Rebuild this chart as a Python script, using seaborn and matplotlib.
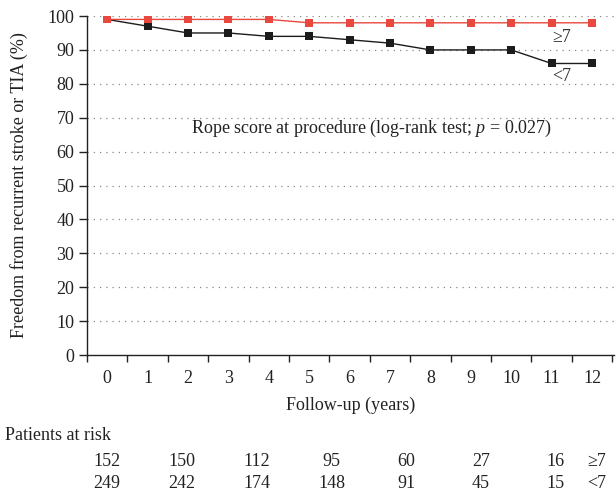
import numpy as np
import pandas as pd
import matplotlib
matplotlib.use("Agg")
import matplotlib.pyplot as plt
import matplotlib.transforms as mtransforms
import seaborn as sns

years = list(range(13))
high_score = [99, 99, 99, 99, 99, 98, 98, 98, 98, 98, 98, 98, 98]
low_score = [99, 97, 95, 95, 94, 94, 93, 92, 90, 90, 90, 86, 86]
group_labels = ["\u22657", "<7"]
risk_high = [152, 150, 112, 95, 60, 27, 16]
risk_low = [249, 242, 174, 148, 91, 45, 15]

sns.set_theme(style="white")
plt.rcParams['font.family'] = ['Liberation Serif', 'DejaVu Serif']
plt.rcParams['mathtext.fontset'] = 'custom'
plt.rcParams['mathtext.it'] = 'Liberation Serif:italic'
plt.rcParams['mathtext.rm'] = 'Liberation Serif'

FS = 13
TXT = "#222222"

df = pd.DataFrame({
    "year": years * 2,
    "freedom": high_score + low_score,
    "group": [group_labels[0]] * len(years) + [group_labels[1]] * len(years),
})

fig = plt.figure(figsize=(6.16, 4.93), dpi=100)
ax = fig.add_axes([0.1412, 0.2799, 0.856, 0.6876])

palette = {group_labels[0]: "#e8483e", group_labels[1]: "#1c1c1c"}
sns.lineplot(data=df, x="year", y="freedom", hue="group", palette=palette,
             marker="s", markersize=5.5, markeredgewidth=0, linewidth=1.0,
             legend=False, ax=ax, hue_order=[group_labels[1], group_labels[0]])

ax.set_xlim(-0.45, 12.55)
ax.set_ylim(0, 100)
ax.set_yticks(np.arange(0, 101, 10))
ax.set_xticks(years)
ax.set_xticks(np.arange(-0.5, 13, 1), minor=True)
ax.tick_params(axis="x", which="major", length=0, pad=11, labelsize=FS, colors=TXT)
ax.tick_params(axis="x", which="minor", length=5, width=1, direction="out", color=TXT, bottom=True)
ax.tick_params(axis="y", which="major", length=6, width=1, direction="out", labelsize=FS, colors=TXT, left=True, pad=3)

for spine in ["top", "right"]:
    ax.spines[spine].set_visible(False)
for spine in ["left", "bottom"]:
    ax.spines[spine].set_color(TXT)
    ax.spines[spine].set_linewidth(1.0)

for yv in range(10, 101, 10):
    ax.axhline(yv, color="#888888", linestyle=(0, (1, 4)), linewidth=0.9, zorder=0)

ax.set_xlabel("Follow-up (years)", fontsize=FS, color=TXT)
ax.set_ylabel("Freedom from recurrent stroke or TIA (%)", fontsize=FS, color=TXT)
ax.xaxis.set_label_coords(0.5, -0.122)
ax.yaxis.set_label_coords(-0.112, 0.5)

ax.text(11.25, 93.8, group_labels[0], fontsize=FS, color="#333333", ha="center", va="center")
ax.text(11.25, 82.3, group_labels[1], fontsize=FS, color="#333333", ha="center", va="center")
ax.text(6.55, 66.8, "Rope score at procedure (log-rank test; $p$ = 0.027)", fontsize=FS,
        color=TXT, ha="center", va="center")

trans = mtransforms.blended_transform_factory(ax.transData, fig.transFigure)
fig.text(0.008, 1 - 436 / 493, "Patients at risk", fontsize=FS, color=TXT, va="center")
risk_x = np.linspace(0, 11.1, len(risk_high))
for xv, h, l in zip(risk_x, risk_high, risk_low):
    ax.text(xv, 1 - 461 / 493, str(h), transform=trans, fontsize=FS, ha="center", va="center", color=TXT)
    ax.text(xv, 1 - 483 / 493, str(l), transform=trans, fontsize=FS, ha="center", va="center", color=TXT)
ax.text(12.12, 1 - 461 / 493, group_labels[0], transform=trans, fontsize=FS, ha="center", va="center", color=TXT)
ax.text(12.12, 1 - 483 / 493, group_labels[1], transform=trans, fontsize=FS, ha="center", va="center", color=TXT)

fig.savefig("out.png", dpi=100)
